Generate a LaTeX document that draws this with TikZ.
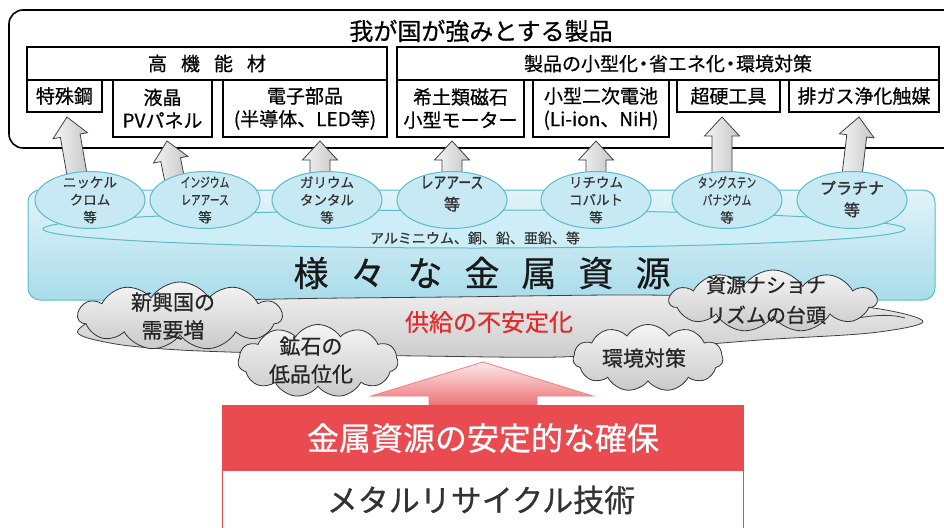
\documentclass[tikz,border=0pt]{standalone}
\usepackage{fontspec}
\usepackage{graphicx}
\setmainfont{Noto Sans CJK JP}[FakeBold=0.6]
\newfontfamily\jpbold{Noto Sans CJK JP}[FakeBold=1.6]
\usetikzlibrary{shapes.geometric,shapes.symbols,calc}
\definecolor{bluebd}{HTML}{5DBACB}
\definecolor{bluetop}{HTML}{E2F4F9}
\definecolor{bluebot}{HTML}{A9DCEA}
\definecolor{ellfill}{HTML}{C6E9F3}
\definecolor{platfill}{HTML}{CDEEF6}
\definecolor{redbox}{HTML}{E94B50}
\definecolor{redtxt}{HTML}{E32B2B}
\definecolor{txtgray}{HTML}{333333}
\newcommand\hw[1]{\scalebox{0.72}[1]{#1}}
\newcommand\blockarr[2]{%
  \coordinate (hb) at ($(#2)!19pt!(#1)$);
  \path[arrowbox] ($(#1)!10pt!90:(#2)$) -- ($(hb)!10pt!90:(#2)$) -- ($(hb)!17.5pt!90:(#2)$) -- (#2)
     -- ($(hb)!17.5pt!-90:(#2)$) -- ($(hb)!10pt!-90:(#2)$) -- ($(#1)!10pt!-90:(#2)$) -- cycle;
}
\begin{document}
\begin{tikzpicture}[x=1pt,y=-1pt,
  pbox/.style={draw=black, line width=1.5pt, fill=white, inner sep=0pt, align=center,
    font=\fontsize{19}{23}\selectfont},
  arrowbox/.style={draw=black!75, line width=0.8pt, left color=gray!8, right color=gray!45},
  ell/.style={ellipse, draw=bluebd, line width=1pt, fill=ellfill, minimum width=110, minimum height=57, inner sep=0pt},
  elltxt/.style={align=center, text=txtgray, inner sep=0pt, font=\fontsize{13.5}{17.5}\selectfont},
  cloudbox/.style={cloud, cloud puffs=11, cloud puff arc=115, cloud ignores aspect, draw=black!80,
    line width=0.8pt, top color=gray!8, bottom color=gray!42, inner sep=0pt},
  cloudtxt/.style={align=center, text=black!85, inner sep=0pt, font=\fontsize{21}{28}\selectfont},
]
\useasboundingbox (0,0) rectangle (944,527);
\clip (0,0) rectangle (944,527);

% top frame
\draw[line width=1.6pt, fill=white, rounded corners=14] (9,10) rectangle (975,148);
\node[inner sep=0pt, font=\fontsize{24}{24}\selectfont] (title) at (481,31) {我が国が強みとする製品};

\node[pbox, minimum width=360, minimum height=33, font=\fontsize{19}{19}\selectfont] (h1) at (207,63.5) {高\hspace{14pt}機\hspace{14pt}能\hspace{14pt}材};
\node[pbox, minimum width=542, minimum height=33, font=\fontsize{19}{19}\selectfont] (h2) at (668,63.5) {製品の小型化\hspace{-4pt}・\hspace{-4pt}省エネ化\hspace{-4pt}・\hspace{-4pt}環境対策};

\node[pbox, minimum width=75, minimum height=32] (p1) at (64.5,96) {特殊鋼};
\node[pbox, minimum width=99, minimum height=57] (p2) at (162.5,108.5) {液晶\\PVパネル};
\node[pbox, minimum width=164, minimum height=57] (p3) at (305,108.5) {電子部品\\(半導体、LED等)};
\node[pbox, minimum width=127, minimum height=57] (p4) at (460.5,108.5) {希土類磁石\\小型モーター};
\node[pbox, minimum width=136, minimum height=57] (p5) at (601,108.5) {小型二次電池\\(Li-ion、NiH)};
\node[pbox, minimum width=103, minimum height=32] (p6) at (728.5,96) {超硬工具};
\node[pbox, minimum width=150, minimum height=32] (p7) at (864,96) {排ガス浄化触媒};

% blue resource box
\draw[draw=bluebd, line width=1pt, top color=bluetop, bottom color=bluebot, rounded corners=12] (28,190) rectangle (935,300);
\node[ellipse, draw=bluebd, line width=1pt, fill=platfill, minimum width=862, minimum height=38, inner sep=0pt] (plat) at (474,229) {};
\node[inner sep=0pt, text=txtgray, font=\fontsize{14}{14}\selectfont] (alu) at (475,238) {アルミニウム、銅、鉛、亜鉛、等};
\node[inner sep=0pt, text=black!90, font=\fontsize{35}{35}\selectfont] (metal) at (482,273)
  {様\hspace{22pt}々\hspace{22pt}な\hspace{22pt}金\hspace{22pt}属\hspace{22pt}資\hspace{22pt}源};

% arrows from resources to products
\coordinate (a1b) at (80,192);  \coordinate (a1t) at (67,117);
\coordinate (a2b) at (177,192); \coordinate (a2t) at (167,141);
\coordinate (a3b) at (320,192); \coordinate (a3t) at (320,141);
\coordinate (a4b) at (452,192); \coordinate (a4t) at (452,141);
\coordinate (a5b) at (596,192); \coordinate (a5t) at (596,141);
\coordinate (a6b) at (722,192); \coordinate (a6t) at (722,117);
\coordinate (a7b) at (850,192); \coordinate (a7t) at (859,117);
\blockarr{a1b}{a1t}
\blockarr{a2b}{a2t}
\blockarr{a3b}{a3t}
\blockarr{a4b}{a4t}
\blockarr{a5b}{a5t}
\blockarr{a6b}{a6t}
\blockarr{a7b}{a7t}

% resource ellipses
\node[ell] (e1) at (90,200) {};
\node[ell] (e2) at (205,200) {};
\node[ell] (e3) at (327,200) {};
\node[ell] (e4) at (452,200) {};
\node[ell] (e5) at (596,200) {};
\node[ell] (e6) at (727,200) {};
\node[ell] (e7) at (852,200) {};
\node[elltxt] (t1) at (e1.center) {ニッケル\\クロム\\等};
\node[elltxt] (t2) at (e2.center) {\hw{インジウム}\\\hw{レアアース}\\等};
\node[elltxt] (t3) at (e3.center) {ガリウム\\タンタル\\等};
\node[elltxt, font=\jpbold\fontsize{16}{22}\selectfont] (t4) at ($(e4.center)+(0,-6)$) {\scalebox{0.8}[1]{レアアース}\\等};
\node[elltxt] (t5) at (e5.center) {リチウム\\コバルト\\等};
\node[elltxt] (t6) at (e6.center) {\hw{タングステン}\\\hw{バナジウム}\\等};
\node[elltxt, font=\jpbold\fontsize{16}{22}\selectfont] (t7) at ($(e7.center)+(0,-1)$) {プラチナ\\等};

% gray supply blob
\draw[draw=black!75, line width=0.8pt, top color=gray!15, bottom color=gray!40]
  plot[smooth cycle, tension=0.55] coordinates {(78,330) (140,304) (280,299) (450,297) (640,295) (780,299) (880,309) (923,322) (870,333) (760,340) (640,350) (560,357) (420,356) (300,354) (180,350) (110,343)};
\draw[draw=black!75, line width=0.8pt] (858,318) .. controls (880,314) and (895,315) .. (905,318);
\node[inner sep=0pt, text=redtxt, font=\fontsize{24}{24}\selectfont] (supply) at (489,322) {供給の不安定化};

% clouds
\node[cloudbox, minimum width=204, minimum height=68] (c1) at (180,316) {};
\node[cloudtxt] (c1t) at (173,316) {新興国の\\需要増};
\node[cloudbox, minimum width=160, minimum height=73] (c2) at (318,361) {};
\node[cloudtxt] (c2t) at (311,360) {鉱石の\\低品位化};
\node[cloudbox, minimum width=207, minimum height=62] (c3) at (773,301) {};
\node[cloudtxt, font=\fontsize{20}{30}\selectfont] (c3t) at (766,300) {資源ナショナ\\リズムの台頭};
\node[cloudbox, minimum width=150, minimum height=67] (c4) at (648,358) {};
\node[cloudtxt] (c4t) at (644,358) {環境対策};

% red arrow
\draw[draw=redbox!70, line width=0.8pt, top color=redbox!12, bottom color=redbox!85]
  (429,410) -- (429,396) -- (371,396) -- (483,362) -- (593,396) -- (537,396) -- (537,410) -- cycle;

% bottom boxes
\draw[draw=redbox, line width=1.5pt, fill=white] (222.5,470) rectangle (743.5,540);
\node[fill=redbox, draw=redbox, line width=1pt, minimum width=521, minimum height=65, inner sep=0pt] (rb) at (483,437.5) {};
\node[inner sep=0pt, text=white, font=\fontsize{32}{32}\selectfont] (rbt) at (483,438) {金属資源の安定的な確保};
\node[inner sep=0pt, text=txtgray, font=\fontsize{31}{31}\selectfont] (wbt) at (481,500) {メタルリサイクル技術};
\end{tikzpicture}
\end{document}
